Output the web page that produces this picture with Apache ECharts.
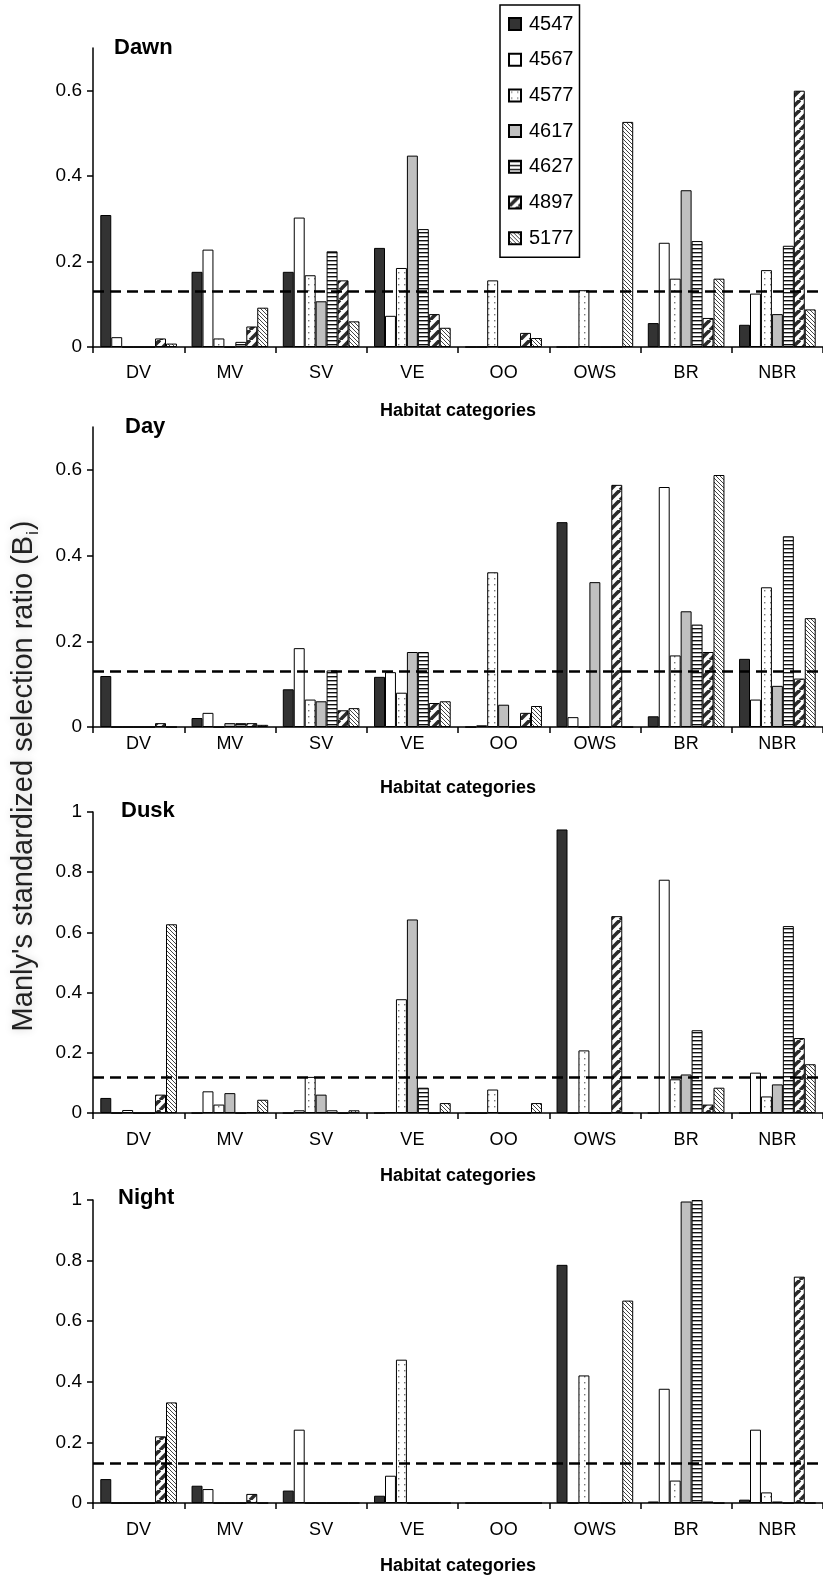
<!DOCTYPE html>
<html>
<head>
<meta charset="utf-8">
<title>Manly's standardized selection ratio by habitat</title>
<script src="https://cdn.jsdelivr.net/npm/echarts@6/dist/echarts.min.js"></script>
<style>
  html, body { margin: 0; padding: 0; background: #fff; }
  #chart { width: 823px; height: 1579px; }
</style>
</head>
<body>
<div id="chart"></div>
<script>
// Habitat categories on the x axis
const categories = ['DV', 'MV', 'SV', 'VE', 'OO', 'OWS', 'BR', 'NBR'];
// Animal IDs (one bar series each)
const seriesNames = ['4547', '4567', '4577', '4617', '4627', '4897', '5177'];

// Selection ratios, one row per animal (same order as seriesNames), one column per habitat
const dawnValues = [
  [0.309, 0.176, 0.176, 0.232, 0,     0,     0.056, 0.052],
  [0.023, 0.228, 0.303, 0.073, 0,     0,     0.244, 0.125],
  [0,     0.020, 0.168, 0.185, 0.156, 0.133, 0.160, 0.180],
  [0,     0,     0.107, 0.448, 0,     0,     0.367, 0.077],
  [0,     0.012, 0.224, 0.276, 0,     0,     0.248, 0.237],
  [0.020, 0.048, 0.156, 0.077, 0.033, 0,     0.068, 0.600],
  [0.008, 0.092, 0.060, 0.045, 0.021, 0.527, 0.160, 0.088]
];
const dayValues = [
  [0.119, 0.021, 0.088, 0.117, 0,     0.478, 0.025, 0.159],
  [0,     0.033, 0.184, 0.128, 0.004, 0.023, 0.560, 0.064],
  [0,     0,     0.064, 0.080, 0.361, 0,     0.167, 0.326],
  [0,     0.009, 0.060, 0.175, 0.052, 0.338, 0.270, 0.096],
  [0,     0.009, 0.132, 0.175, 0,     0,     0.239, 0.445],
  [0.009, 0.009, 0.039, 0.056, 0.033, 0.565, 0.175, 0.113],
  [0,     0.005, 0.044, 0.060, 0.049, 0,     0.588, 0.254]
];
const duskValues = [
  [0.050, 0,     0,     0,     0,     0.942, 0,     0],
  [0,     0.072, 0.009, 0.003, 0,     0,     0.775, 0.134],
  [0.010, 0.028, 0.120, 0.378, 0.078, 0.208, 0.112, 0.055],
  [0,     0.066, 0.061, 0.643, 0,     0,     0.128, 0.095],
  [0,     0,     0.009, 0.084, 0,     0,     0.275, 0.621],
  [0.061, 0.003, 0,     0,     0,     0.654, 0.028, 0.249],
  [0.627, 0.044, 0.009, 0.033, 0.033, 0,     0.084, 0.162]
];
const nightValues = [
  [0.079, 0.057, 0.041, 0.024, 0,     0.786, 0.005, 0.011],
  [0,     0.046, 0.242, 0.090, 0,     0,     0.377, 0.242],
  [0,     0,     0,     0.473, 0,     0.421, 0.074, 0.035],
  [0,     0,     0,     0,     0,     0,     0.995, 0.005],
  [0,     0,     0,     0,     0,     0,     1.000, 0],
  [0.220, 0.030, 0,     0,     0,     0,     0.005, 0.747],
  [0.332, 0,     0,     0,     0,     0.668, 0,     0]
];

// Panel names and the equal-use reference level drawn as a dashed line
const panelTitles = ['Dawn', 'Day', 'Dusk', 'Night'];
const panelValues = [dawnValues, dayValues, duskValues, nightValues];
const referenceLevels = [0.125, 0.125, 0.12, 0.13];
const yMax = [0.7, 0.7, 1, 1];

// ---- fill patterns ----
function pattern(w, h, draw) {
  const c = document.createElement('canvas');
  c.width = w; c.height = h;
  const ctx = c.getContext('2d');
  ctx.fillStyle = '#fff';
  ctx.fillRect(0, 0, w, h);
  draw(ctx, w, h);
  return { image: c, repeat: 'repeat' };
}
const dotted = pattern(6, 6, (ctx) => {
  ctx.fillStyle = '#777';
  ctx.fillRect(2, 2, 1.4, 1.4);
});
const hLines = pattern(4, 4, (ctx) => {
  ctx.fillStyle = '#111';
  ctx.fillRect(0, 0, 4, 1.4);
});
const thickDiag = pattern(10, 10, (ctx) => {
  ctx.strokeStyle = '#2b2b2b';
  ctx.lineWidth = 3.6;
  for (const k of [-10, 0, 10]) {
    ctx.beginPath(); ctx.moveTo(k, 10); ctx.lineTo(k + 10, 0); ctx.stroke();
  }
});
const thinDiag = pattern(4, 4, (ctx) => {
  ctx.strokeStyle = '#444';
  ctx.lineWidth = 1;
  for (const k of [-4, 0, 4]) {
    ctx.beginPath(); ctx.moveTo(k, 0); ctx.lineTo(k + 4, 4); ctx.stroke();
  }
});
const fills = ['#333333', '#ffffff', dotted, '#c0c0c0', hLines, thickDiag, thinDiag];

// ---- layout ----
const FONT = '"Liberation Sans", Arial, Helvetica, sans-serif';
const gridTops = [48, 427, 812, 1200];
const gridHeights = [299, 300, 301, 303];
const labelMargins = [17, 8, 18, 18];
const nameGaps = [55, 52, 54, 54];
const titleY = [48.5, 428, 812, 1199];
const titleX = [114, 125, 121, 118];

const grids = [], xAxes = [], yAxes = [], series = [], graphics = [];
panelValues.forEach((values, p) => {
  grids.push({ left: 93, width: 731, top: gridTops[p], height: gridHeights[p] });
  xAxes.push({
    type: 'category', gridIndex: p, data: categories,
    axisLine: { lineStyle: { color: '#000', width: 1.5 } },
    axisTick: { show: true, interval: 0, length: 6, lineStyle: { color: '#000', width: 1.5 } },
    axisLabel: { color: '#000', fontSize: 18, fontFamily: FONT, margin: labelMargins[p], interval: 0 },
    name: 'Habitat categories', nameLocation: 'middle', nameGap: nameGaps[p],
    nameTextStyle: { color: '#000', fontSize: 18, fontWeight: 'bold', fontFamily: FONT }
  });
  const ticks = [];
  for (let v = 0; v <= yMax[p] + 1e-9; v += 0.2) ticks.push(Math.round(v * 10) / 10);
  yAxes.push({
    type: 'value', gridIndex: p, min: 0, max: yMax[p], interval: 0.2,
    splitLine: { show: false },
    axisLine: { show: true, lineStyle: { color: '#000', width: 1.5 } },
    axisTick: { show: true, length: 6, customValues: ticks, lineStyle: { color: '#000', width: 1.5 } },
    axisLabel: { color: '#000', fontSize: 19, fontFamily: FONT, margin: 11, customValues: ticks }
  });
  values.forEach((row, s) => {
    const item = {
      type: 'bar', name: seriesNames[s], xAxisIndex: p, yAxisIndex: p,
      data: row, barGap: '0%', barCategoryGap: '16%',
      itemStyle: { color: fills[s], borderColor: '#000', borderWidth: 1 },
      emphasis: { disabled: true }
    };
    if (s === 0) {
      item.markLine = {
        silent: true, symbol: 'none', z: 10,
        label: { show: false },
        lineStyle: { color: '#000', type: [11, 6], width: 2.6 },
        data: [{ yAxis: referenceLevels[p] }]
      };
    }
    series.push(item);
  });
  graphics.push({
    type: 'text', left: titleX[p], top: titleY[p] - 12,
    style: { text: panelTitles[p], font: 'bold 22px ' + FONT, fill: '#000' }
  });
});

// Shared y-axis title, reading bottom to top
graphics.push({
  type: 'text', x: 24, y: 776, rotation: Math.PI / 2,
  style: {
    text: "Manly's standardized selection ratio (B{s|i})",
    fontSize: 29, fontFamily: FONT, fill: '#222',
    align: 'center', verticalAlign: 'middle', lineHeight: 36,
    textShadowColor: 'rgba(0,0,0,0.2)', textShadowBlur: 8,
    rich: { s: { fontSize: 16, fontFamily: FONT, fill: '#222', verticalAlign: 'bottom', lineHeight: 16, padding: [0, 1, 0, 1] } }
  }
});

const chart = echarts.init(document.getElementById('chart'), null, { renderer: 'canvas' });
chart.setOption({
  animation: false,
  backgroundColor: '#fff',
  grid: grids, xAxis: xAxes, yAxis: yAxes, series: series,
  legend: {
    data: seriesNames, orient: 'vertical', left: 500, top: 5,
    padding: [9, 6, 9, 8], itemGap: 15.7, itemWidth: 12, itemHeight: 12,
    borderColor: '#000', borderWidth: 1.5, backgroundColor: '#fff',
    icon: 'rect', selectedMode: false,
    textStyle: { color: '#000', fontSize: 20, fontFamily: FONT, padding: [0, 0, 0, 3] }
  },
  graphic: graphics
});
</script>
</body>
</html>
